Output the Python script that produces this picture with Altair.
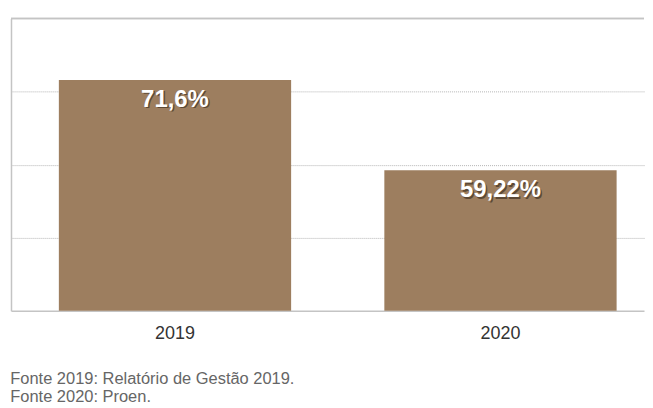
import altair as alt
import pandas as pd

years = ["2019", "2020"]
values = [71.6, 59.22]
labels = ["71,6%", "59,22%"]
notes = ["Fonte 2019: Relatório de Gestão 2019.", "Fonte 2020: Proen."]

df = pd.DataFrame({"ano": years, "valor": values, "rotulo": labels})

FRAME = "#c4c4c4"

x = alt.X(
    "ano:N", title=None, sort=years,
    scale=alt.Scale(paddingInner=0.2864, paddingOuter=0.1156, align=0.636),
    axis=alt.Axis(labelAngle=0, labelFontSize=18, labelColor="#333333",
                  labelFont="Liberation Sans", ticks=False, domainColor=FRAME,
                  domainWidth=1.5, labelPadding=14),
)
y = alt.Y(
    "valor:Q", title=None,
    scale=alt.Scale(domain=[40, 80], nice=False, zero=False),
    axis=alt.Axis(values=[50, 60, 70], labels=False, ticks=False,
                  domainColor=FRAME, domainWidth=1.5, gridColor="#b5b5b5",
                  gridDash=[1, 1], gridWidth=1),
)

base = alt.Chart(df)
bars = base.mark_bar(color="#9d7e5f").encode(x=x, y=y, y2=alt.datum(40))
top = base.mark_rule(color=FRAME, strokeWidth=1.5).encode(y=alt.datum(80))
shadow = base.mark_text(baseline="middle", dy=21.5, dx=1.5, fontSize=24,
                        fontWeight="bold", color="#2a1f14", opacity=0.55,
                        font="Liberation Sans").encode(
    x=alt.X("ano:N", sort=years), y="valor:Q", text="rotulo:N")
label = base.mark_text(baseline="middle", dy=20, fontSize=24, fontWeight="bold",
                       color="white", font="Liberation Sans").encode(
    x=alt.X("ano:N", sort=years), y="valor:Q", text="rotulo:N")

chart = alt.layer(bars, top, shadow, label).properties(
    width=635, height=293,
    padding={"left": 2, "top": 9, "right": 0, "bottom": 0},
    title=alt.TitleParams(text=notes, orient="bottom", anchor="start",
                          fontSize=16.5, color="#666666", font="Liberation Sans",
                          fontWeight="normal", lineHeight=18, offset=29),
).configure_view(stroke=None)

chart.save("out.html", embed_options={"renderer": "svg", "actions": False})
